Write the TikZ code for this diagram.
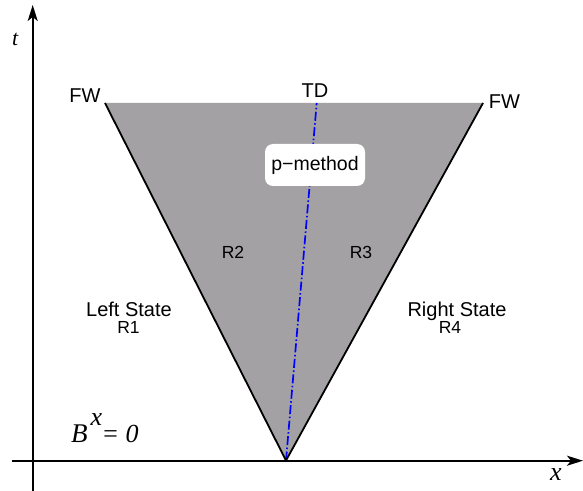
\documentclass[tikz,border=0pt]{standalone}
\usepackage{fontspec}
\setmainfont{Liberation Sans}
\newfontfamily\serifit[ItalicFont={Liberation Serif Italic}]{Liberation Serif}
\usetikzlibrary{arrows.meta}
\definecolor{wedgegray}{RGB}{163,161,164}
\tikzset{
  axis/.style={line width=1.9bp, -{Stealth[length=16bp,width=10bp,inset=4bp]}},
  edge/.style={line width=1.8bp, black},
  tdline/.style={line width=1.7bp, blue, dash pattern=on 9bp off 2.5bp on 1.5bp off 2.5bp},
  lbl/.style={inner sep=0pt, anchor=base, font=\fontsize{20bp}{22bp}\selectfont},
  rlbl/.style={inner sep=0pt, anchor=base, font=\fontsize{17.5bp}{19bp}\selectfont},
  mathlbl/.style={inner sep=0pt, anchor=base, font=\fontsize{26bp}{28bp}\serifit\itshape},
  pbox/.style={fill=white, rounded corners=8bp, minimum width=100bp, minimum height=42bp, inner sep=0pt, font=\fontsize{19.5bp}{22bp}\selectfont}
}
\begin{document}
\begin{tikzpicture}[x=1bp,y=-1bp]
\useasboundingbox (0,0) rectangle (583,491);
% wedge corners
\coordinate (A) at (105,103);
\coordinate (B) at (483,103);
\coordinate (O) at (286,460.5);
\coordinate (T) at (316.7,103);
\fill[wedgegray] (A) -- (B) -- (O) -- cycle;
\draw[tdline] (O) -- (T);
\draw[edge] (A) -- (O) -- (B);
% p-method box
\node[pbox] (pm) at (315,165) {p\char"2212 method};
% labels
\node[lbl] (fwl) at (85,103) {FW};
\node[lbl] (fwr) at (504.5,109) {FW};
\node[lbl] (td) at (315,98) {TD};
\node[rlbl] (r2) at (233,258) {R2};
\node[rlbl] (r3) at (361,258) {R3};
\node[lbl] (ls) at (129,316.7) {Left State};
\node[rlbl] (r1) at (128.5,333) {R1};
\node[lbl] (rs) at (457,316.7) {Right State};
\node[rlbl] (r4) at (450,333) {R4};
% B^x = 0
\node[mathlbl, anchor=base west, font=\fontsize{27bp}{30bp}\serifit\itshape] (bb) at (71,442.3) {B};
\node[mathlbl, anchor=base west, font=\fontsize{26bp}{30bp}\serifit\itshape] (bx) at (90.5,425) {x};
\node[mathlbl, anchor=base west, font=\fontsize{26bp}{30bp}\serifit\itshape] (beq) at (101.5,442.3) {= 0};
% axes
\coordinate (xs) at (12,460.7);
\coordinate (xe) at (583,460.7);
\coordinate (ts) at (32.7,491);
\coordinate (te) at (32.7,5);
\draw[axis] (xs) -- (xe);
\draw[axis] (ts) -- (te);
\node[mathlbl, font=\fontsize{22bp}{26bp}\serifit\itshape] (tl) at (15.3,45.7) {t};
\node[mathlbl, font=\fontsize{26bp}{30bp}\serifit\itshape] (xl) at (556,480.7) {x};
\end{tikzpicture}
\end{document}
